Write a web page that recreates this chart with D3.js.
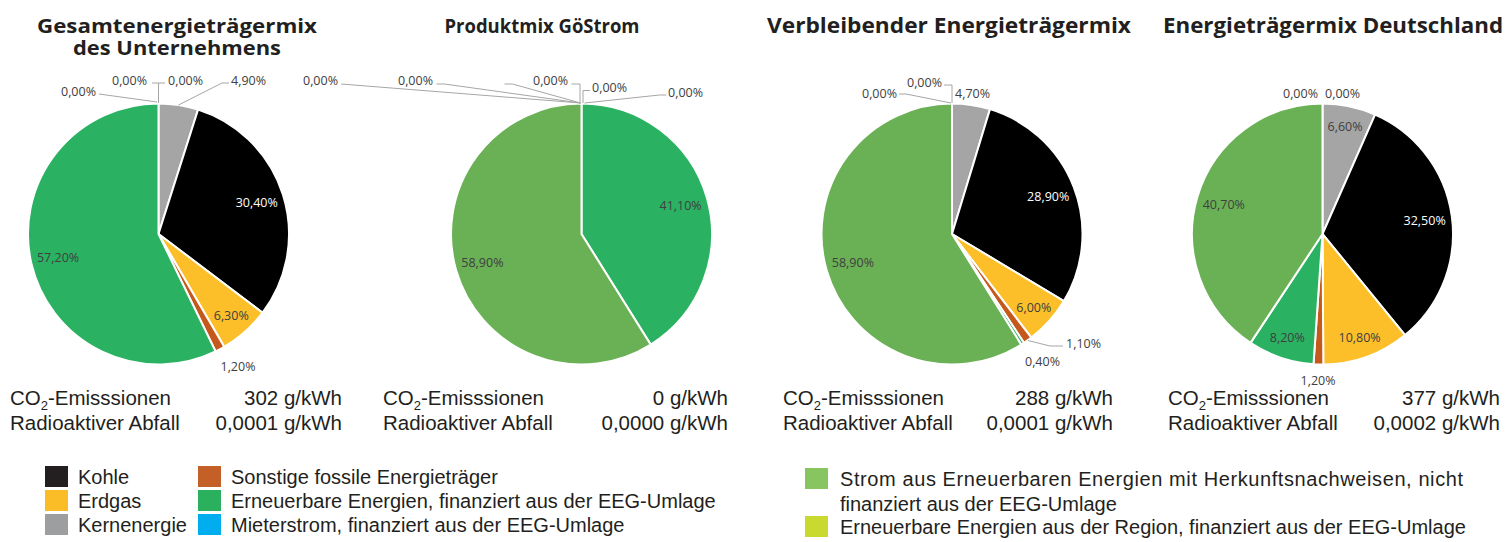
<!DOCTYPE html>
<html><head><meta charset="utf-8">
<script src="https://cdn.jsdelivr.net/npm/d3@7"></script>
<style>html,body{margin:0;padding:0;background:#fff;}svg{display:block;}</style>
</head><body>
<svg id="c" width="1507" height="542"></svg>
<script>
// ---------- DATA ----------
const categories = [
  "Kernenergie", "Kohle", "Erdgas", "Sonstige fossile Energieträger",
  "Erneuerbare Energien, finanziert aus der EEG-Umlage",
  "Strom aus Erneuerbaren Energien mit Herkunftsnachweisen, nicht finanziert aus der EEG-Umlage",
  "Mieterstrom, finanziert aus der EEG-Umlage",
  "Erneuerbare Energien aus der Region, finanziert aus der EEG-Umlage"
];
const chartTitles = [
  ["Gesamtenergieträgermix", "des Unternehmens"],
  ["Produktmix GöStrom"],
  ["Verbleibender Energieträgermix"],
  ["Energieträgermix Deutschland"]
];
const gesamtValues      = [4.9, 30.4, 6.3, 1.2, 57.2, 0, 0, 0];
const produktValues     = [0, 0, 0, 0, 41.1, 58.9, 0, 0];
const verbleibendValues = [4.7, 28.9, 6.0, 1.1, 0.4, 58.9, 0, 0];
const deutschlandValues = [6.6, 32.5, 10.8, 1.2, 8.2, 40.7, 0, 0];
const co2Values   = ["302 g/kWh", "0 g/kWh", "288 g/kWh", "377 g/kWh"];
const wasteValues = ["0,0001 g/kWh", "0,0000 g/kWh", "0,0001 g/kWh", "0,0002 g/kWh"];
const legendLeft  = ["Kohle", "Erdgas", "Kernenergie"];
const legendMid   = ["Sonstige fossile Energieträger", "Erneuerbare Energien, finanziert aus der EEG-Umlage", "Mieterstrom, finanziert aus der EEG-Umlage"];
const legendRight = [["Strom aus Erneuerbaren Energien mit Herkunftsnachweisen, nicht", "finanziert aus der EEG-Umlage"], ["Erneuerbare Energien aus der Region, finanziert aus der EEG-Umlage"]];

// ---------- STYLE / LAYOUT ----------
const sliceColors = ["#a5a5a5", "#000000", "#fcbf29", "#c5591c", "#2ab262", "#6ab155", "#00aeef", "#c8d82e"];
const legendLeftColors  = ["#231f20", "#fbbd27", "#9c9e9f"];
const legendMidColors   = ["#c45f27", "#2bb05e", "#00aeef"];
const legendRightColors = ["#86c55f", "#c9d92f"];
const allValues = [gesamtValues, produktValues, verbleibendValues, deutschlandValues];
const centers = [[158.5, 234], [581.5, 234], [952, 234], [1322.5, 234]];
const R = 130.5;
const titleX = [177, 542, 949, 1333];
const titleWidths = [[280, 208], [195], [364], [340]];
const titleSizes = [20, 20, 21, 21];
const statLeft = [10, 383, 783, 1168];
const statRight = [342, 728, 1113, 1500];
const TXT = "#231f20", LBL = "#404040", LEAD = "#a6a6a6";
const labelFont = "'Open Sans', 'Noto Sans', sans-serif";
const bodyFont = "'Liberation Sans', Arial, sans-serif";

// manual label placements (relative to pie centre) for crowded/zero slices
const overrides = [
  { // pie 1
    0: {x: 72.5, y: -149.5, a: "start", lead: [[70.5,-151],[63.5,-151],[20,-129]]},
    3: {x: 79.5, y: 136.5, a: "middle"},
    5: {x: -62.5, y: -138.5, a: "end", lead: [[-59.5,-140],[-1.5,-132]]},
    6: {x: -11.5, y: -149.5, a: "end", lead: [[-6.5,-151],[0,-151],[0,-131]]},
    7: {x: 9.5, y: -149.5, a: "start", lead: [[6.5,-151],[0,-151]]}
  },
  { // pie 2
    0: {x: 10.5, y: -142.5, a: "start", lead: [[8.5,-143.5],[1.5,-143.5],[1.5,-131]]},
    1: {x: 86.5, y: -137.5, a: "start", lead: [[85,-139],[78,-139],[3,-131]]},
    2: {x: -13.5, y: -149.5, a: "end", lead: [[-10,-150],[-1.5,-150],[-1.5,-131]]},
    3: {x: -77, y: -149.5, a: "end", hide: true, lead: [[-77,-150],[-69,-150],[-1,-131]]},
    6: {x: -148.5, y: -149.5, a: "end", lead: [[-145,-150],[-137,-150],[-1,-131]]},
    7: {x: -243.5, y: -149.5, a: "end", lead: [[-240.5,-150],[-1,-131]]}
  },
  { // pie 3
    0: {x: 3, y: -136.5, a: "start"},
    3: {x: 114, y: 113.5, a: "start", lead: [[111,112],[98,112],[76,106.5]]},
    4: {x: 90.5, y: 131.5, a: "middle"},
    6: {x: -55, y: -136.5, a: "end", lead: [[-53,-140],[-46,-140],[-1,-131]]},
    7: {x: -10, y: -147.5, a: "end", lead: [[-8,-149],[0,-149],[0,-131]]}
  },
  { // pie 4
    3: {x: -4.5, y: 150.5, a: "middle"},
    6: {x: -4.5, y: -136.5, a: "end"},
    7: {x: 2.5, y: -136.5, a: "start"}
  }
];

const fmt = v => v.toFixed(2).replace(".", ",") + "%";
const svg = d3.select("#c");

const pie = d3.pie().sort(null).value(d => d.v);
const arc = d3.arc().innerRadius(0).outerRadius(R);

allValues.forEach((vals, p) => {
  const [cx, cy] = centers[p];
  const g = svg.append("g").attr("transform", `translate(${cx},${cy})`);
  const data = pie(vals.map((v, i) => ({v, i})));
  g.selectAll("path.slice").data(data.filter(d => d.data.v > 0)).join("path")
    .attr("class", "slice")
    .attr("d", arc)
    .attr("fill", d => sliceColors[d.data.i])
    .attr("stroke", "#fff").attr("stroke-width", 2).attr("stroke-linejoin", "miter");

  const line = d3.line();
  data.forEach(d => {
    const i = d.data.i;
    const o = overrides[p][i];
    let x, y, a = "middle", inside = false;
    if (o) {
      x = o.x; y = o.y; a = o.a;
      if (o.lead) g.append("path").attr("d", line(o.lead)).attr("fill", "none")
        .attr("stroke", LEAD).attr("stroke-width", 1);
      if (o.hide) return;
    } else {
      inside = true;
      const mid = (d.startAngle + d.endAngle) / 2;
      const frac = d.data.v / 100;
      const k = frac < 0.12 ? 0.84 : 0.79;
      x = Math.sin(mid) * R * k;
      y = -Math.cos(mid) * R * k + 4.5;
    }
    g.append("text").attr("x", x).attr("y", y).attr("text-anchor", a)
      .attr("font-family", labelFont).attr("font-size", 12.5)
      .attr("fill", inside && i === 1 ? "#ffffff" : LBL)
      .text(fmt(d.data.v));
  });

  // title
  const t = svg.append("text").attr("text-anchor", "middle")
    .attr("font-family", "'Open Sans', 'Noto Sans', sans-serif").attr("font-weight", "bold")
    .attr("font-size", titleSizes[p]).attr("fill", TXT);
  chartTitles[p].forEach((ln, j) => {
    const ts = t.append("tspan").attr("x", titleX[p]).attr("y", 33 + j * 22).text(ln);
    if (titleWidths[p][j]) ts.attr("textLength", titleWidths[p][j]).attr("lengthAdjust", "spacingAndGlyphs");
  });

  // stats
  const s1 = svg.append("text").attr("x", statLeft[p]).attr("y", 405)
    .attr("font-family", bodyFont).attr("font-size", 20.5).attr("fill", TXT);
  s1.append("tspan").text("CO");
  s1.append("tspan").attr("font-size", 13).attr("dy", 5).text("2");
  s1.append("tspan").attr("dy", -5).text("-Emisssionen");
  svg.append("text").attr("x", statRight[p]).attr("y", 405).attr("text-anchor", "end")
    .attr("font-family", bodyFont).attr("font-size", 20.5).attr("fill", TXT).text(co2Values[p]);
  svg.append("text").attr("x", statLeft[p]).attr("y", 430)
    .attr("font-family", bodyFont).attr("font-size", 20.5).attr("fill", TXT).text("Radioaktiver Abfall");
  svg.append("text").attr("x", statRight[p]).attr("y", 430).attr("text-anchor", "end")
    .attr("font-family", bodyFont).attr("font-size", 20.5).attr("fill", TXT).text(wasteValues[p]);
});

// ---------- LEGEND ----------
const legRows = [466, 490, 514];
function legendItem(x, tx, y, color, lines, justify) {
  svg.append("rect").attr("x", x).attr("y", y).attr("width", 23).attr("height", 21).attr("fill", color);
  lines.forEach((ln, j) => {
    const t = svg.append("text").attr("x", tx).attr("y", y + 18 + j * 25)
      .attr("font-family", bodyFont).attr("font-size", 20).attr("fill", TXT).text(ln);
    if (justify && j < lines.length - 1) t.attr("textLength", justify).attr("lengthAdjust", "spacing");
  });
}
legendLeft.forEach((n, i) => legendItem(45, 78, legRows[i], legendLeftColors[i], [n]));
legendMid.forEach((n, i) => legendItem(198, 231, legRows[i], legendMidColors[i], [n]));
legendRight.forEach((n, i) => legendItem(805, 840, [468, 516][i], legendRightColors[i], n, 623));
</script>
</body></html>
